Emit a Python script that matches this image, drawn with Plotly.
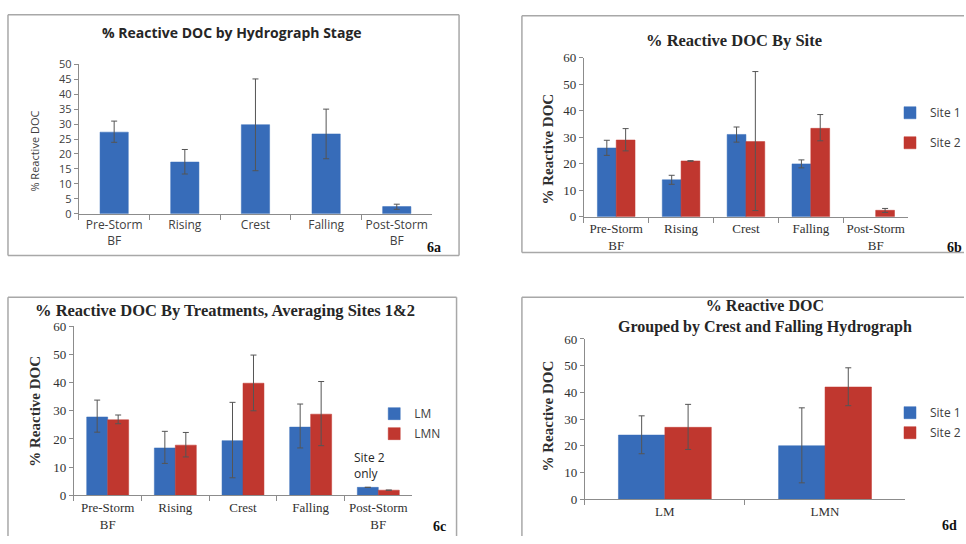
import plotly.graph_objects as go

W, H = 966, 544

# ---- data -------------------------------------------------------------
stages = ["Pre-Storm<br>BF", "Rising", "Crest", "Falling", "Post-Storm<br>BF"]

# 6a: all samples by hydrograph stage
stage_mean = [27.3, 17.3, 29.8, 26.7, 2.4]
stage_hi = [31.0, 21.5, 45.1, 35.0, 3.2]
stage_lo = [23.9, 13.3, 14.4, 18.4, 1.5]

# 6b: by site
site1_mean = [25.9, 13.9, 31.0, 19.9, None]
site1_hi = [28.8, 15.6, 33.8, 21.4, None]
site1_lo = [23.1, 12.2, 28.1, 18.4, None]
site2_mean = [28.9, 21.0, 28.3, 33.3, 2.4]
site2_hi = [33.2, 21.1, 54.7, 38.5, 3.1]
site2_lo = [24.8, 20.9, 2.3, 28.6, 1.6]

# 6c: by treatment, averaging sites 1 & 2
lm_mean = [27.8, 16.8, 19.4, 24.2, 2.8]
lm_hi = [33.8, 22.7, 33.0, 32.4, None]
lm_lo = [22.4, 11.3, 6.2, 16.8, None]
lmn_mean = [26.8, 17.8, 39.8, 28.8, 1.8]
lmn_hi = [28.5, 22.3, 49.8, 40.4, None]
lmn_lo = [25.4, 13.6, 30.0, 17.6, None]

# 6d: crest + falling, grouped by treatment
treatments = ["LM", "LMN"]
d_site1_mean = [24.0, 20.0]
d_site1_hi = [31.2, 34.2]
d_site1_lo = [17.0, 6.1]
d_site2_mean = [26.9, 42.0]
d_site2_hi = [35.5, 49.2]
d_site2_lo = [18.6, 35.0]

# ---- styling ----------------------------------------------------------
BLUE = "#376cb9"
RED = "#c0372f"
ERR_COL = "#555555"
AXIS_COL = "#8c8c8c"
BORDER_COL = "#a8a8a8"
SANS = "Open Sans, Noto Sans, sans-serif"
SERIF = "Liberation Serif, Times New Roman, serif"


def px(x):
    return x / W


def py(y):
    return 1 - y / H


def errs(mean, hi, lo):
    up = [None if m is None or h is None else round(h - m, 3) for m, h in zip(mean, hi)]
    dn = [None if m is None or l is None else round(m - l, 3) for m, l in zip(mean, lo)]
    return dict(type="data", symmetric=False, array=up, arrayminus=dn,
                color=ERR_COL, thickness=1, width=3)


def bar(x, y, hi, lo, color, name, xa, ya, width, offset, legend=None, group=None):
    return go.Bar(
        x=x, y=y, name=name, xaxis=xa, yaxis=ya,
        width=width, offset=offset,
        marker=dict(color=color, line=dict(color=color, width=0.5)),
        error_y=errs(y, hi, lo),
        showlegend=legend is not None, legend=legend or "legend",
        legendgroup=group,
    )


fig = go.Figure()

# 6a
fig.add_trace(bar(stages, stage_mean, stage_hi, stage_lo, BLUE, "All", "x", "y", 0.40, -0.20))
# 6b
fig.add_trace(bar(stages, site1_mean, site1_hi, site1_lo, BLUE, "Site 1", "x2", "y2", 0.29, -0.29, "legend2", "b1"))
fig.add_trace(bar(stages, site2_mean, site2_hi, site2_lo, RED, "Site 2", "x2", "y2", 0.29, 0.0, "legend2", "b2"))
# 6c
fig.add_trace(bar(stages, lm_mean, lm_hi, lm_lo, BLUE, "LM", "x3", "y3", 0.31, -0.31, "legend3", "c1"))
fig.add_trace(bar(stages, lmn_mean, lmn_hi, lmn_lo, RED, "LMN", "x3", "y3", 0.31, 0.0, "legend3", "c2"))
# 6d
fig.add_trace(bar(treatments, d_site1_mean, d_site1_hi, d_site1_lo, BLUE, "Site 1", "x4", "y4", 0.29, -0.29, "legend4", "d1"))
fig.add_trace(bar(treatments, d_site2_mean, d_site2_hi, d_site2_lo, RED, "Site 2", "x4", "y4", 0.29, 0.0, "legend4", "d2"))


def xax(dom, font, n, anchor):
    return dict(domain=[px(dom[0]), px(dom[1])], anchor=anchor, type="category",
                range=[-0.5, n - 0.5], showline=True, linecolor=AXIS_COL, linewidth=1,
                ticks="outside", tickson="boundaries", ticklen=5, tickcolor=AXIS_COL,
                tickangle=0, showgrid=False, zeroline=False, tickfont=font,
                fixedrange=True)


def yax(dom, rng, dtick, font, anchor):
    return dict(domain=[py(dom[1]), py(dom[0])], anchor=anchor, range=rng, dtick=dtick,
                showline=True, linecolor=AXIS_COL, linewidth=1, ticks="outside",
                ticklen=4, tickcolor=AXIS_COL, showgrid=False, zeroline=False,
                tickfont=font, fixedrange=True)


sans_xtick = dict(family=SANS, size=12, color="#404040")
sans_ytick = dict(family=SANS, size=11, color="#404040")
serif_tick = dict(family=SERIF, size=13, color="#303030")

fig.update_layout(
    width=W, height=H, margin=dict(l=0, r=0, t=0, b=0),
    paper_bgcolor="white", plot_bgcolor="white", barmode="overlay",
    xaxis=xax((79, 433), sans_xtick, 5, "y"),
    yaxis=yax((58, 212), [0, 50], 5, sans_ytick, "x"),
    xaxis2=xax((585, 910), serif_tick, 5, "y2"),
    yaxis2=yax((51, 215), [0, 60], 10, serif_tick, "x2"),
    xaxis3=xax((74, 413), serif_tick, 5, "y3"),
    yaxis3=yax((328, 502), [0, 60], 10, serif_tick, "x3"),
    xaxis4=xax((586, 907), serif_tick, 2, "y4"),
    yaxis4=yax((341, 506), [0, 60], 10, serif_tick, "x4"),
)

leg_font = dict(family=SANS, size=12, color="#404040")
legend_pos = {"legend2": (892, 93, 11), "legend3": (375, 403, 1), "legend4": (892, 402, 1)}
for name, (lx, ly, gap) in legend_pos.items():
    fig.update_layout({name: dict(x=px(lx), y=py(ly), xanchor="left", yanchor="top",
                                  font=leg_font, bgcolor="rgba(0,0,0,0)",
                                  tracegroupgap=gap, itemwidth=30, traceorder="grouped")})

# panel frames (edges running past the page are left open)
frame_lines = [
    # 6a: closed box
    (8, 7, 460, 7), (8, 255, 460, 255), (8, 7, 8, 255), (460, 7, 460, 255),
    # 6b: open on the right
    (523, 8, 966, 8), (523, 252, 966, 252), (523, 8, 523, 252),
    # 6c: open at the bottom
    (8, 298, 457.5, 298), (8, 298, 8, 544), (457.5, 298, 457.5, 544),
    # 6d: open right and bottom
    (523, 298, 966, 298), (523, 298, 523, 544),
]
for x0, y0, x1, y1 in frame_lines:
    fig.add_shape(type="line", xref="paper", yref="paper", x0=px(x0), x1=px(x1),
                  y0=py(y0), y1=py(y1), line=dict(color=BORDER_COL, width=1.5),
                  layer="below")

ann = []


def text(x, y, s, font, angle=0, xanchor="center"):
    ann.append(dict(x=px(x), y=py(y), xref="paper", yref="paper", text=s, showarrow=False,
                    font=font, textangle=angle, xanchor=xanchor, yanchor="middle"))


title_sans = dict(family=SANS, size=14, color="#262626")
title_serif = dict(family=SERIF, size=16.5, color="#262626")
text(232, 25, "<b>% Reactive DOC by Hydrograph Stage</b>", title_sans)
text(736, 33, "<b>% Reactive DOC By Site</b>", title_serif)
text(225, 312, "<b>% Reactive DOC By Treatments, Averaging Sites 1&2</b>", title_serif)
text(767, 318, "<b>% Reactive DOC<br>Grouped by Crest and Falling Hydrograph</b>",
     dict(family=SERIF, size=16, color="#262626"))

text(35, 147, "% Reactive DOC", dict(family=SANS, size=11, color="#404040"), -90)
ytitle = dict(family=SERIF, size=15, color="#303030")
text(549, 145, "<b>% Reactive DOC</b>", ytitle, -90)
text(35, 415, "<b>% Reactive DOC</b>", ytitle, -90)
text(549, 420, "<b>% Reactive DOC</b>", ytitle, -90)

panel_font = dict(family=SERIF, size=14, color="#111111")
text(435, 247, "<b>6a</b>", panel_font)
text(956, 247, "<b>6b</b>", panel_font)
text(440, 534, "<b>6c</b>", panel_font)
text(951, 533, "<b>6d</b>", panel_font)

ann.append(dict(x="Post-Storm<br>BF", y=3.2, xref="x3", yref="y3", xshift=-9,
                yanchor="bottom", yshift=2,
                text="Site 2<br>only", showarrow=False, align="left",
                font=dict(family=SANS, size=12, color="#262626")))

fig.update_layout(annotations=ann)

fig.write_html("out.html")
